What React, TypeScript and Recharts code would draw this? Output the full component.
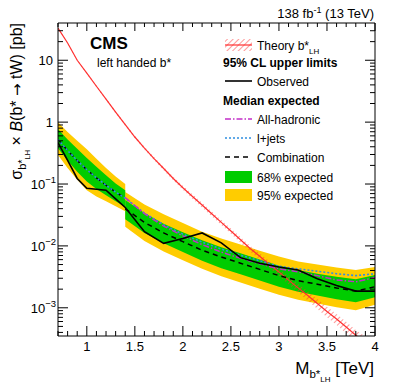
import React from "react";
import { ComposedChart, Area, Line, XAxis, YAxis } from "recharts";

const FONT = '"Liberation Sans", Arial, Helvetica, sans-serif';

// theory cross section (b* LH), every 0.1 TeV
const masses = [
  0.7, 0.8, 0.9, 1.0, 1.1, 1.2, 1.3, 1.4, 1.5, 1.6, 1.7, 1.8, 1.9, 2.0, 2.1, 2.2, 2.3,
  2.4, 2.5, 2.6, 2.7, 2.8, 2.9, 3.0, 3.1, 3.2, 3.3, 3.4, 3.5, 3.6, 3.7, 3.8, 3.9, 4.0,
];
const theoryXsec = [
  33, 19, 10, 6.2, 3.8, 2.35, 1.45, 0.91, 0.575, 0.38, 0.257, 0.178, 0.123, 0.087, 0.063,
  0.0457, 0.0331, 0.024, 0.0174, 0.0126, 0.0091, 0.0068, 0.005, 0.0038, 0.0028, 0.0021,
  0.00158, 0.00117, 0.00087, 0.00066, 0.00049, 0.00036, 0.00028, 0.0002,
];
const theoryUnc = [
  0.03, 0.03, 0.03, 0.035, 0.04, 0.04, 0.045, 0.05, 0.05, 0.055, 0.06, 0.065, 0.07, 0.075,
  0.08, 0.085, 0.09, 0.095, 0.1, 0.105, 0.11, 0.12, 0.13, 0.14, 0.15, 0.16, 0.17, 0.18,
  0.19, 0.2, 0.21, 0.22, 0.23, 0.24,
];

// expected limits below 1.4 TeV (l+jets only)
const massA = [0.7, 0.8, 0.9, 1.0, 1.1, 1.2, 1.3, 1.4];
const expMedA = [0.525, 0.347, 0.24, 0.17, 0.126, 0.0955, 0.0741, 0.0589];
const exp68HiA = [0.776, 0.525, 0.372, 0.263, 0.191, 0.138, 0.102, 0.0794];
const exp68LoA = [0.38, 0.24, 0.158, 0.11, 0.0832, 0.0661, 0.0525, 0.0427];
const exp95HiA = [1.0, 0.692, 0.501, 0.363, 0.257, 0.182, 0.132, 0.1];
const exp95LoA = [0.295, 0.182, 0.117, 0.0794, 0.0631, 0.0525, 0.0437, 0.0363];

// combination from 1.4 TeV
const massB = [1.4, 1.6, 1.8, 2.0, 2.2, 2.4, 2.6, 2.8, 3.0, 3.2, 3.4, 3.6, 3.8, 4.0];
const expMedB = [
  0.0398, 0.024, 0.0162, 0.0117, 0.00851, 0.00661, 0.00525, 0.00417, 0.00331, 0.00275,
  0.0024, 0.00209, 0.00186, 0.00219,
];
const exp68HiB = [
  0.055, 0.0339, 0.0229, 0.0166, 0.0123, 0.00955, 0.00759, 0.00603, 0.00479, 0.00407,
  0.00355, 0.00316, 0.00288, 0.00339,
];
const exp68LoB = [
  0.0269, 0.0162, 0.011, 0.00794, 0.00575, 0.00437, 0.00347, 0.00275, 0.00219, 0.00182,
  0.00158, 0.00138, 0.00123, 0.00148,
];
const exp95HiB = [
  0.0741, 0.0468, 0.0324, 0.0234, 0.017, 0.0132, 0.0105, 0.00832, 0.00676, 0.00562,
  0.00501, 0.00447, 0.00407, 0.00457,
];
const exp95LoB = [
  0.0204, 0.012, 0.00813, 0.00589, 0.00427, 0.00324, 0.00257, 0.00204, 0.00162, 0.00135,
  0.00117, 0.00102, 0.000912, 0.00112,
];
const allHadLimit = [
  0.0603, 0.0331, 0.0209, 0.0145, 0.0105, 0.00794, 0.00631, 0.00513, 0.00427, 0.0038,
  0.00331, 0.00282, 0.00263, 0.00309,
];

// observed and l+jets expected
const obsMass = [
  0.7, 0.8, 0.9, 1.0, 1.1, 1.2, 1.3, 1.4, 1.6, 1.8, 2.0, 2.2, 2.4, 2.6, 2.8, 3.0, 3.2, 3.4,
  3.6, 3.8, 4.0,
];
const obsLimit = [
  0.468, 0.24, 0.123, 0.0851, 0.0822, 0.0794, 0.0575, 0.0417, 0.017, 0.011, 0.0132, 0.0162,
  0.0112, 0.00646, 0.00525, 0.00457, 0.00407, 0.00295, 0.00229, 0.00186, 0.00186,
];
const ljLimit = [
  0.525, 0.347, 0.24, 0.17, 0.126, 0.0955, 0.0741, 0.0589, 0.0339, 0.0219, 0.0155, 0.0115,
  0.00891, 0.00708, 0.00575, 0.00468, 0.00427, 0.00389, 0.00355, 0.00331, 0.00355,
];

const xTicks = [
  0.7, 0.8, 0.9, 1, 1.1, 1.2, 1.3, 1.4, 1.5, 1.6, 1.7, 1.8, 1.9, 2, 2.1, 2.2, 2.3, 2.4, 2.5,
  2.6, 2.7, 2.8, 2.9, 3, 3.1, 3.2, 3.3, 3.4, 3.5, 3.6, 3.7, 3.8, 3.9, 4,
];
const xMajor = [1, 1.5, 2, 2.5, 3, 3.5, 4];
const xLabels = ["1", "1.5", "2", "2.5", "3", "3.5", "4"];
const yTicks = [
  0.0004, 0.0005, 0.0006, 0.0007, 0.0008, 0.0009, 0.001, 0.002, 0.003, 0.004, 0.005, 0.006,
  0.007, 0.008, 0.009, 0.01, 0.02, 0.03, 0.04, 0.05, 0.06, 0.07, 0.08, 0.09, 0.1, 0.2, 0.3,
  0.4, 0.5, 0.6, 0.7, 0.8, 0.9, 1, 2, 3, 4, 5, 6, 7, 8, 9, 10, 20, 30,
];
const yMajor = [0.001, 0.01, 0.1, 1, 10];
const yBase = ["10", "10", "10", "1", "10"];
const yExp = ["\u22123", "\u22122", "\u22121", "", ""];

const idx = (arr: number[], m: number) => arr.findIndex((v) => Math.abs(v - m) < 1e-6);

const data = masses.map((m, i) => {
  const row: any = {
    mass: m,
    theory: theoryXsec[i],
    theoryBand: [theoryXsec[i] * (1 - theoryUnc[i]), theoryXsec[i] * (1 + theoryUnc[i])],
  };
  const a = idx(massA, m);
  if (a >= 0) {
    row.medA = expMedA[a];
    row.g68A = [exp68LoA[a], exp68HiA[a]];
    row.y95A = [exp95LoA[a], exp95HiA[a]];
  }
  const b = idx(massB, m);
  if (b >= 0) {
    row.medB = expMedB[b];
    row.g68B = [exp68LoB[b], exp68HiB[b]];
    row.y95B = [exp95LoB[b], exp95HiB[b]];
    row.allHad = allHadLimit[b];
  }
  const o = idx(obsMass, m);
  if (o >= 0) {
    row.obs = obsLimit[o];
    row.lj = ljLimit[o];
  }
  return row;
});

const BottomTick = (props: any) => {
  const { x, y, payload } = props;
  const k = idx(xMajor, payload.value);
  return (
    <g>
      <line x1={x} x2={x} y1={y} y2={y - (k >= 0 ? 10 : 5)} stroke="#000" />
      {k >= 0 && (
        <text x={x} y={y + 15} textAnchor="middle" fontSize={13} fontFamily={FONT} fill="#000">
          {xLabels[k]}
        </text>
      )}
    </g>
  );
};

const TopTick = (props: any) => {
  const { x, y, payload } = props;
  const k = idx(xMajor, payload.value);
  return <line x1={x} x2={x} y1={y} y2={y + (k >= 0 ? 8 : 4)} stroke="#000" />;
};

const LeftTick = (props: any) => {
  const { x, y, payload } = props;
  const k = idx(yMajor, payload.value);
  return (
    <g>
      <line x1={x} x2={x + (k >= 0 ? 10 : 5)} y1={y} y2={y} stroke="#000" />
      {k >= 0 && (
        <text
          x={yExp[k] ? x - 2 : x - 5}
          y={y + 5}
          textAnchor="end"
          fontSize={13}
          fontFamily={FONT}
          fill="#000"
        >
          {yBase[k]}
          {yExp[k] && (
            <tspan dy={-6} fontSize={9.5}>
              {yExp[k]}
            </tspan>
          )}
        </text>
      )}
    </g>
  );
};

const RightTick = (props: any) => {
  const { x, y, payload } = props;
  const k = idx(yMajor, payload.value);
  return <line x1={x} x2={x - (k >= 0 ? 10 : 5)} y1={y} y2={y} stroke="#000" />;
};

const legendX = 225;

export default function App() {
  return (
    <div style={{ position: "absolute", left: 0, top: 0, width: 399, height: 383, background: "#fff" }}>
      <ComposedChart
        width={399}
        height={383}
        data={data}
        margin={{ top: 22, right: 23, bottom: 16, left: 8 }}
      >
        <defs>
          <pattern id="hatch" patternUnits="userSpaceOnUse" width={4} height={4} patternTransform="rotate(45)">
            <line x1={0} y1={0} x2={0} y2={4} stroke="#ff3030" strokeWidth={1.4} strokeOpacity={0.7} />
          </pattern>
        </defs>
        <Area xAxisId="b" yAxisId="l" type="linear" dataKey="y95A" fill="#ffcc00" fillOpacity={1} stroke="none" isAnimationActive={false} />
        <Area xAxisId="b" yAxisId="l" type="linear" dataKey="y95B" fill="#ffcc00" fillOpacity={1} stroke="none" connectNulls isAnimationActive={false} />
        <Area xAxisId="b" yAxisId="l" type="linear" dataKey="g68A" fill="#00cc00" fillOpacity={1} stroke="none" isAnimationActive={false} />
        <Area xAxisId="b" yAxisId="l" type="linear" dataKey="g68B" fill="#00cc00" fillOpacity={1} stroke="none" connectNulls isAnimationActive={false} />
        <Area xAxisId="b" yAxisId="l" type="linear" dataKey="theoryBand" fill="url(#hatch)" fillOpacity={1} stroke="none" isAnimationActive={false} />
        <Line xAxisId="b" yAxisId="l" type="linear" dataKey="theory" stroke="#ff3030" strokeWidth={1.2} dot={false} isAnimationActive={false} />
        <Line xAxisId="b" yAxisId="l" type="linear" dataKey="medA" stroke="#000" strokeWidth={1.5} strokeDasharray="5 4" dot={false} isAnimationActive={false} />
        <Line xAxisId="b" yAxisId="l" type="linear" dataKey="medB" stroke="#000" strokeWidth={1.5} strokeDasharray="5 4" dot={false} connectNulls isAnimationActive={false} />
        <Line xAxisId="b" yAxisId="l" type="linear" dataKey="lj" stroke="#2f8fe0" strokeWidth={1.6} strokeDasharray="2 2" dot={false} connectNulls isAnimationActive={false} />
        <Line xAxisId="b" yAxisId="l" type="linear" dataKey="allHad" stroke="#c22ec8" strokeWidth={1.5} strokeDasharray="6 2 1.5 2" dot={false} connectNulls isAnimationActive={false} />
        <Line xAxisId="b" yAxisId="l" type="linear" dataKey="obs" stroke="#000" strokeWidth={1.6} dot={false} connectNulls isAnimationActive={false} />
        <XAxis
          xAxisId="b"
          dataKey="mass"
          type="number"
          domain={[0.7, 4]}
          allowDataOverflow
          ticks={xTicks}
          interval={0}
          height={31}
          tickSize={0}
          tickMargin={0}
          tickLine={false}
          tick={<BottomTick />}
          axisLine={{ stroke: "#000" }}
        />
        <XAxis
          xAxisId="t"
          orientation="top"
          dataKey="mass"
          type="number"
          domain={[0.7, 4]}
          allowDataOverflow
          ticks={xTicks}
          interval={0}
          height={1}
          tickSize={0}
          tickMargin={0}
          tickLine={false}
          tick={<TopTick />}
          axisLine={{ stroke: "#000" }}
        />
        <YAxis
          yAxisId="l"
          scale="log"
          type="number"
          domain={[0.00035, 40]}
          allowDataOverflow
          ticks={yTicks}
          interval={0}
          width={50}
          tickSize={0}
          tickMargin={0}
          tickLine={false}
          tick={<LeftTick />}
          axisLine={{ stroke: "#000" }}
        />
        <YAxis
          yAxisId="r"
          orientation="right"
          scale="log"
          type="number"
          domain={[0.00035, 40]}
          allowDataOverflow
          ticks={yTicks}
          interval={0}
          width={1}
          tickSize={0}
          tickMargin={0}
          tickLine={false}
          tick={<RightTick />}
          axisLine={{ stroke: "#000" }}
        />
      </ComposedChart>

      <svg
        width={399}
        height={383}
        style={{ position: "absolute", left: 0, top: 0, pointerEvents: "none" }}
        fontFamily={FONT}
      >
        <defs>
          <pattern id="hatchLeg" patternUnits="userSpaceOnUse" width={4} height={4} patternTransform="rotate(45)">
            <line x1={0} y1={0} x2={0} y2={4} stroke="#ff3030" strokeWidth={1.4} strokeOpacity={0.7} />
          </pattern>
        </defs>
        <text x={374} y={18} textAnchor="end" fontSize={13}>
          138 fb<tspan dy={-5} fontSize={9}>-1</tspan>
          <tspan dy={5}> (13 TeV)</tspan>
        </text>
        <text x={90} y={49} fontSize={17} fontWeight="bold">CMS</text>
        <text x={97} y={67} fontSize={12}>left handed b*</text>

        <text transform="translate(22,23) rotate(-90)" textAnchor="end" fontSize={16}>
          σ<tspan dy={4} fontSize={11}>b*</tspan>
          <tspan dy={4} fontSize={7.5}>LH</tspan>
          <tspan dy={-8}> × </tspan>
          <tspan fontStyle="italic">B</tspan>(b* <tspan fontFamily="DejaVu Sans" fontSize={15}>→</tspan> tW) [pb]
        </text>
        <text x={374} y={374} textAnchor="end" fontSize={17}>
          M<tspan dy={4} fontSize={11.5}>b*</tspan>
          <tspan dy={4} fontSize={8}>LH</tspan>
          <tspan dy={-8}> [TeV]</tspan>
        </text>

        <rect x={legendX} y={39} width={27} height={12} fill="url(#hatchLeg)" />
        <line x1={legendX} x2={legendX + 27} y1={45} y2={45} stroke="#ff3030" strokeWidth={1.2} />
        <text x={257} y={49.5} fontSize={12}>
          Theory b*<tspan dy={4} fontSize={8}>LH</tspan>
        </text>
        <text x={223} y={66.5} fontSize={12} fontWeight="bold">95% CL upper limits</text>
        <line x1={legendX} x2={legendX + 27} y1={81} y2={81} stroke="#000" strokeWidth={1.6} />
        <text x={257} y={85.5} fontSize={12}>Observed</text>
        <text x={223} y={104.5} fontSize={12} fontWeight="bold">Median expected</text>
        <line x1={legendX} x2={legendX + 27} y1={119} y2={119} stroke="#c22ec8" strokeWidth={1.5} strokeDasharray="6 2 1.5 2" />
        <text x={257} y={123.5} fontSize={12}>All-hadronic</text>
        <line x1={legendX} x2={legendX + 27} y1={138} y2={138} stroke="#2f8fe0" strokeWidth={1.6} strokeDasharray="2 2" />
        <text x={257} y={142.5} fontSize={12}>l+jets</text>
        <line x1={legendX} x2={legendX + 27} y1={157} y2={157} stroke="#000" strokeWidth={1.5} strokeDasharray="5 4" />
        <text x={257} y={161.5} fontSize={12}>Combination</text>
        <rect x={legendX} y={171} width={27} height={12} fill="#00cc00" />
        <text x={257} y={181.5} fontSize={12}>68% expected</text>
        <rect x={legendX} y={189} width={27} height={12} fill="#ffcc00" />
        <text x={257} y={199.5} fontSize={12}>95% expected</text>
      </svg>
    </div>
  );
}
